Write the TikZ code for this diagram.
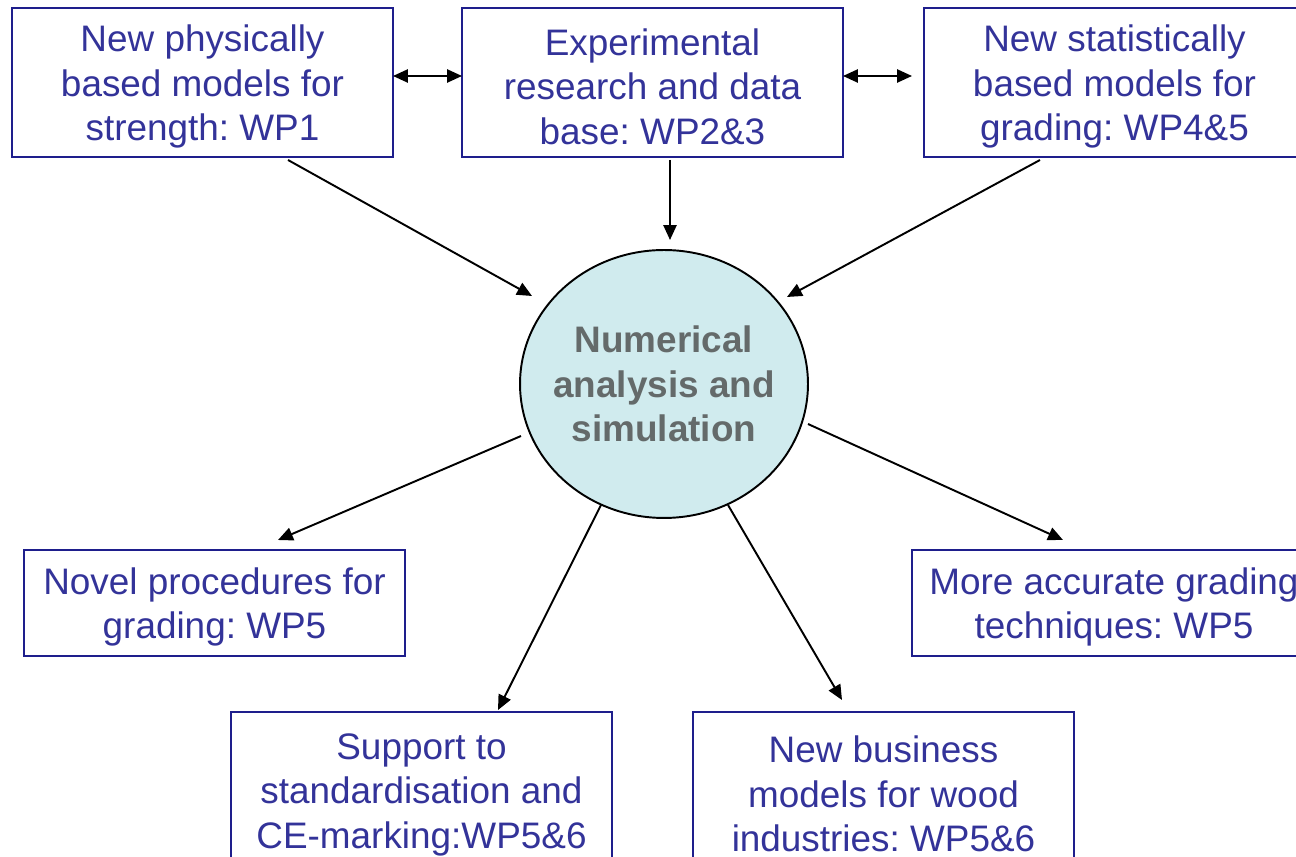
\documentclass[tikz,border=0pt]{standalone}
\usepackage{fontspec}
\setmainfont{Liberation Sans}
\usetikzlibrary{arrows.meta,shapes.geometric}
\frenchspacing
\definecolor{txtblue}{RGB}{51,51,153}
\definecolor{boxblue}{RGB}{30,30,140}
\definecolor{circfill}{RGB}{208,235,238}
\definecolor{circtxt}{RGB}{100,106,106}
\tikzset{
  wpbox/.style={draw=boxblue, line width=0.9pt, rectangle, text=txtblue, align=center,
    font=\fontsize{21}{25.3}\selectfont, inner sep=0pt},
  wpthree/.style={wpbox, text height=2.48cm},
  wptwo/.style={wpbox, text height=1.59cm},
  arr/.style={line width=1.1pt, -{Triangle[length=8.5pt,width=7.5pt]}},
  darr/.style={line width=1.1pt, {Triangle[length=8.5pt,width=7.5pt]}-{Triangle[length=8.5pt,width=7.5pt]}},
}
\begin{document}
\begin{tikzpicture}[x=0.02cm,y=-0.02cm]
\useasboundingbox (0,0) rectangle (1296,857);
\clip (0,0) rectangle (1296,857);
% top boxes
\node[wpthree, minimum width=7.62cm, minimum height=2.98cm] (b1) at (202.5,82.5) {New physically\\based models for\\strength: WP1};
\node[wpthree, minimum width=7.62cm, minimum height=2.98cm] (b2) at (652.5,82.5) {Experimental\\research and data\\base: WP2\&3};
\node[wpthree, minimum width=7.62cm, minimum height=2.98cm] (b3) at (1114.5,82.5) {New statistically\\based models for\\grading: WP4\&5};
% circle
\node[ellipse, draw=black, line width=1.1pt, fill=circfill, minimum width=5.76cm, minimum height=5.36cm, inner sep=0pt] (c) at (664,384) {};
\node[text=circtxt, align=center, font=\bfseries\fontsize{21}{25.3}\selectfont] (ct) at (c.center)
  {Numerical\\analysis and\\simulation};
% middle boxes
\node[wptwo, minimum width=7.62cm, minimum height=2.12cm] (n1) at (214.5,603) {Novel procedures for\\grading: WP5};
\node[wptwo, minimum width=8.08cm, minimum height=2.12cm] (n2) at (1114,603) {More accurate grading\\techniques: WP5};
% bottom boxes
\node[wpthree, minimum width=7.62cm, minimum height=3.12cm] (s1) at (421.5,790) {Support to\\standardisation and\\CE-marking:WP5\&6};
\node[wpthree, minimum width=7.62cm, minimum height=3.12cm] (s2) at (883.5,790) {New business\\models for wood\\industries: WP5\&6};
% arrow end points
\coordinate (a1s) at (288,160); \coordinate (a1e) at (532,296);
\coordinate (a2s) at (670,160); \coordinate (a2e) at (670,240);
\coordinate (a3s) at (1040,160); \coordinate (a3e) at (787,297);
\coordinate (d1s) at (521,436); \coordinate (d1e) at (278,540);
\coordinate (d2s) at (601,505); \coordinate (d2e) at (498,710);
\coordinate (d3s) at (728,505); \coordinate (d3e) at (842,700);
\coordinate (d4s) at (808,424); \coordinate (d4e) at (1063,540);
\coordinate (h1s) at (393,76); \coordinate (h1e) at (462,76);
\coordinate (h2s) at (843,76); \coordinate (h2e) at (912,76);
\draw[arr] (a1s) -- (a1e);
\draw[arr] (a2s) -- (a2e);
\draw[arr] (a3s) -- (a3e);
\draw[arr] (d1s) -- (d1e);
\draw[arr] (d2s) -- (d2e);
\draw[arr] (d3s) -- (d3e);
\draw[arr] (d4s) -- (d4e);
\draw[darr] (h1s) -- (h1e);
\draw[darr] (h2s) -- (h2e);
\end{tikzpicture}
\end{document}
